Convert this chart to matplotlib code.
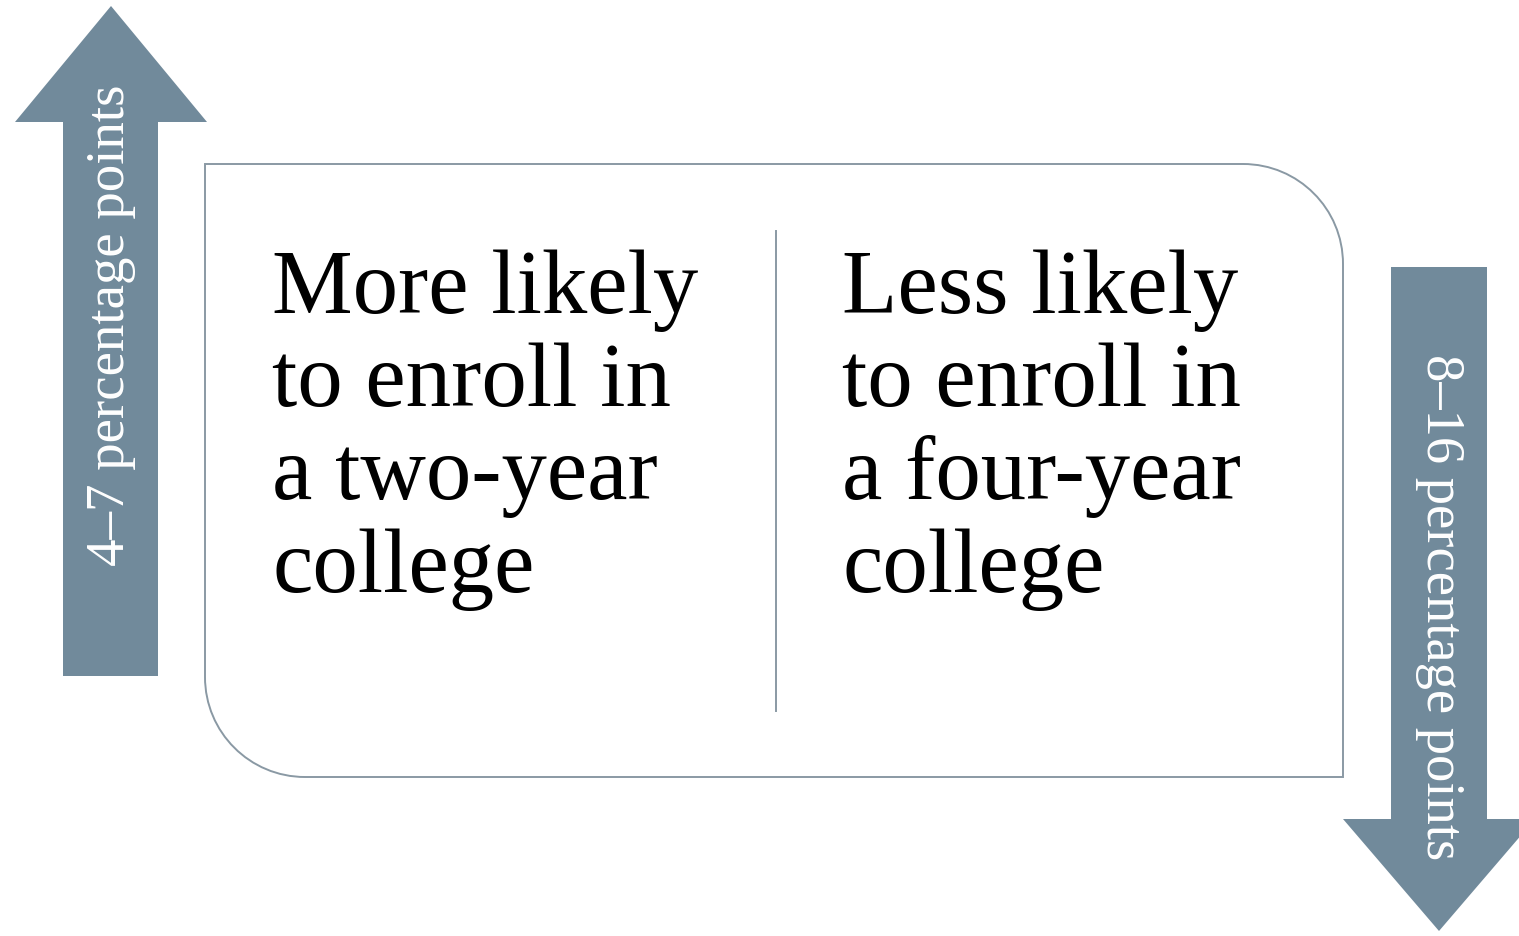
import matplotlib.pyplot as plt
from matplotlib.patches import Polygon, PathPatch
from matplotlib.path import Path

# text content
left_lines = ["More likely", "to enroll in", "a two-year", "college"]
right_lines = ["Less likely", "to enroll in", "a four-year", "college"]
up_label = "4\u20137 percentage points"
down_label = "8\u201316 percentage points"

ARROW = "#718a9b"
EDGE = "#8a99a4"
SERIF = "Liberation Serif"

fig = plt.figure(figsize=(15.19, 9.37), dpi=100)
ax = fig.add_axes([0, 0, 1, 1])
ax.set_xlim(0, 1519)
ax.set_ylim(937, 0)
ax.axis("off")

# up arrow (left)
up = [(63, 677), (63, 123), (15, 123), (111, 7), (207, 123), (158, 123), (158, 677)]
ax.add_patch(Polygon(up, closed=True, facecolor=ARROW, edgecolor="none"))

# down arrow (right)
down = [(1391, 268), (1391, 820), (1343, 820), (1439, 932), (1535, 820), (1487, 820), (1487, 268)]
ax.add_patch(Polygon(down, closed=True, facecolor=ARROW, edgecolor="none"))

# box: square top-left / bottom-right, rounded top-right / bottom-left
x0, y0, x1, y1, r = 205, 165, 1343, 778, 100
k = 0.5523 * r
verts = [
    (x0, y0), (x1 - r, y0),
    (x1 - r + k, y0), (x1, y0 + r - k), (x1, y0 + r),
    (x1, y1), (x0 + r, y1),
    (x0 + r - k, y1), (x0, y1 - r + k), (x0, y1 - r),
    (x0, y0),
]
codes = [Path.MOVETO, Path.LINETO,
         Path.CURVE4, Path.CURVE4, Path.CURVE4,
         Path.LINETO, Path.LINETO,
         Path.CURVE4, Path.CURVE4, Path.CURVE4,
         Path.CLOSEPOLY]
ax.add_patch(PathPatch(Path(verts, codes), facecolor="white", edgecolor=EDGE, lw=1.4))

# divider
ax.plot([776, 776], [232, 712], color=EDGE, lw=1.4)

# box text
for i, (lt, rt) in enumerate(zip(left_lines, right_lines)):
    yb = 313 + i * 93
    ax.text(272, yb, lt, fontsize=65.3, family=SERIF, color="black", va="baseline", ha="left")
    ax.text(842, yb, rt, fontsize=65.3, family=SERIF, color="black", va="baseline", ha="left")

# arrow labels
ax.text(111, 325, up_label, rotation=90, fontsize=39.5, family=SERIF, color="white",
        ha="center", va="center")
ax.text(1440, 607, down_label, rotation=-90, fontsize=39.3, family=SERIF, color="white",
        ha="center", va="center")

fig.savefig("out.png", dpi=100)
